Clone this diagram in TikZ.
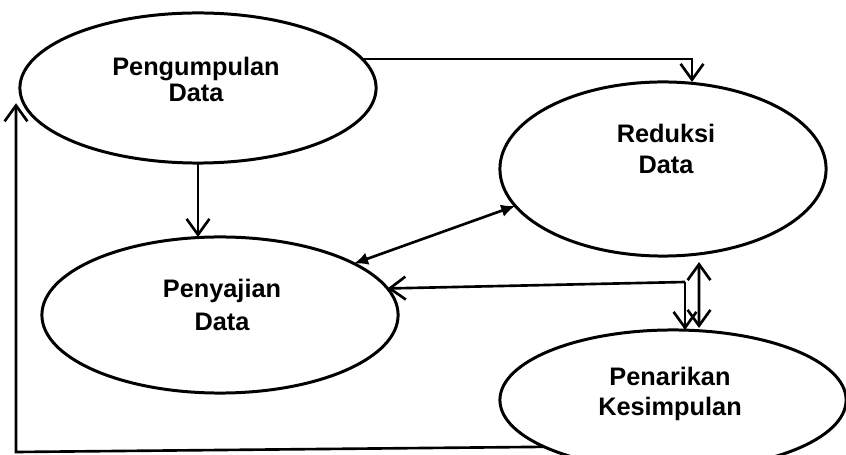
\documentclass[tikz,border=0pt]{standalone}
\usepackage{fontspec}
\setmainfont{Liberation Sans}
\usetikzlibrary{shapes.geometric,arrows.meta}
\tikzset{
  stage/.style={draw,ellipse,line width=0.85pt,inner sep=0pt,outer sep=0pt},
  stagetext/.style={align=center,font=\fontsize{7.2}{8.6}\selectfont\bfseries},
  oneway/.style={line width=0.75pt,-{Straight Barb[length=4.5pt,width=6.5pt]}},
  twoway/.style={line width=0.75pt,{Straight Barb[length=4.5pt,width=6.5pt]}-{Straight Barb[length=4.5pt,width=6.5pt]}},
  solidway/.style={line width=0.75pt,{Latex[length=4pt,width=3.6pt]}-{Latex[length=4pt,width=3.6pt]}}
}
\begin{document}
\begin{tikzpicture}[x=0.01cm,y=-0.01cm]
\useasboundingbox (0,0) rectangle (846,455);
\node[stage,minimum width=3.56cm,minimum height=1.5cm] (pengumpulan) at (198,88) {};
\node[stage,minimum width=3.26cm,minimum height=1.74cm] (reduksi) at (663,169) {};
\node[stage,minimum width=3.56cm,minimum height=1.56cm] (penyajian) at (220,315) {};
\node[stage,minimum width=3.46cm,minimum height=1.4cm] (penarikan) at (673,400) {};
\node[stagetext,font=\fontsize{7.2}{7.4}\selectfont\bfseries] (pengumpulan-t) at (196,79) {Pengumpulan\\Data};
\node[stagetext] (reduksi-t) at (666,149) {Reduksi\\Data};
\node[stagetext,font=\fontsize{7.2}{9.2}\selectfont\bfseries] (penyajian-t) at (222,305) {Penyajian\\Data};
\node[stagetext,font=\fontsize{7.2}{8.6}\selectfont\bfseries] (penarikan-t) at (670,394) {Penarikan\\Kesimpulan};
\coordinate (split) at (685,282);
\coordinate (corner) at (16,452);
\draw[oneway] (pengumpulan.10) -| ([xshift=0.29cm]reduksi.north);
\draw[oneway] (pengumpulan.south) -- (pengumpulan.south |- penyajian.north);
\draw[solidway] (penyajian.21) -- (reduksi.194);
\draw[oneway] (split) -- (penyajian.9);
\draw[oneway] (split) -- (split |- penarikan.north);
\draw[twoway] ([xshift=0.36cm,yshift=-0.06cm]reduksi.south) -- ([xshift=0.26cm,yshift=0.02cm]penarikan.north);
\draw[oneway] (penarikan.200) -- (corner) -- (corner |- pengumpulan.185);
\end{tikzpicture}
\end{document}
